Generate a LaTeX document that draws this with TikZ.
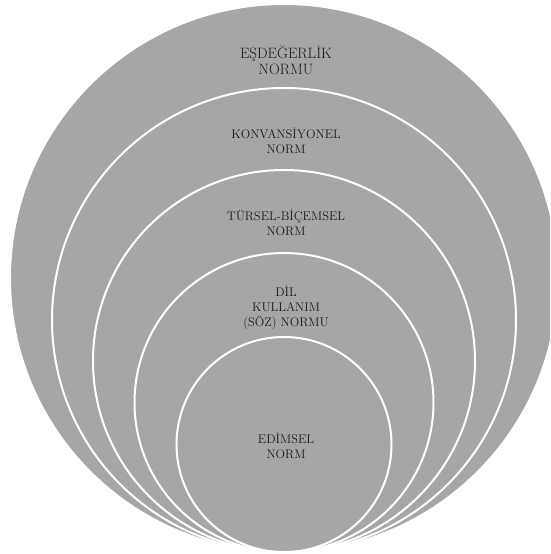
\documentclass[tikz,border=0pt]{standalone}
\usepackage{fontspec}
\usetikzlibrary{positioning}
\definecolor{ringgray}{HTML}{A6A6A6}
\begin{document}
\begin{tikzpicture}[x=1pt, y=1pt,
  ring/.style={draw=white, fill=ringgray, circle, line width=2pt, inner sep=0pt},
  lbl/.style={align=center, font=\fontsize{12.5}{15}\selectfont, text=black!90},
  biglbl/.style={lbl, font=\fontsize{15}{16.5}\selectfont}]

\useasboundingbox (0,0) rectangle (550,554);
\clip (0,0) rectangle (550,554);

%% --- nested rings, all touching at the bottom ---
\node[ring, minimum size=548pt] (R1) at (284,276)   {};
\node[ring, minimum size=464pt] (R2) at (284,234)   {};
\node[ring, minimum size=382pt] (R3) at (284,193)   {};
\node[ring, minimum size=299pt] (R4) at (284,151.5) {};
\node[ring, minimum size=215pt] (R5) at (284,109.5) {};

%% --- labels ---
\node[biglbl] (L1) at (286,494) {EŞDEĞERLİK\\NORMU};
\node[lbl]    (L2) at (286,413) {KONVANSİYONEL\\NORM};
\node[lbl]    (L3) at (286,331) {TÜRSEL-BİÇEMSEL\\NORM};
\node[lbl]    (L4) at (286,246) {DİL\\KULLANIM\\(SÖZ) NORMU};
\node[lbl]    (L5) at (286,108) {EDİMSEL\\NORM};
\end{tikzpicture}
\end{document}
